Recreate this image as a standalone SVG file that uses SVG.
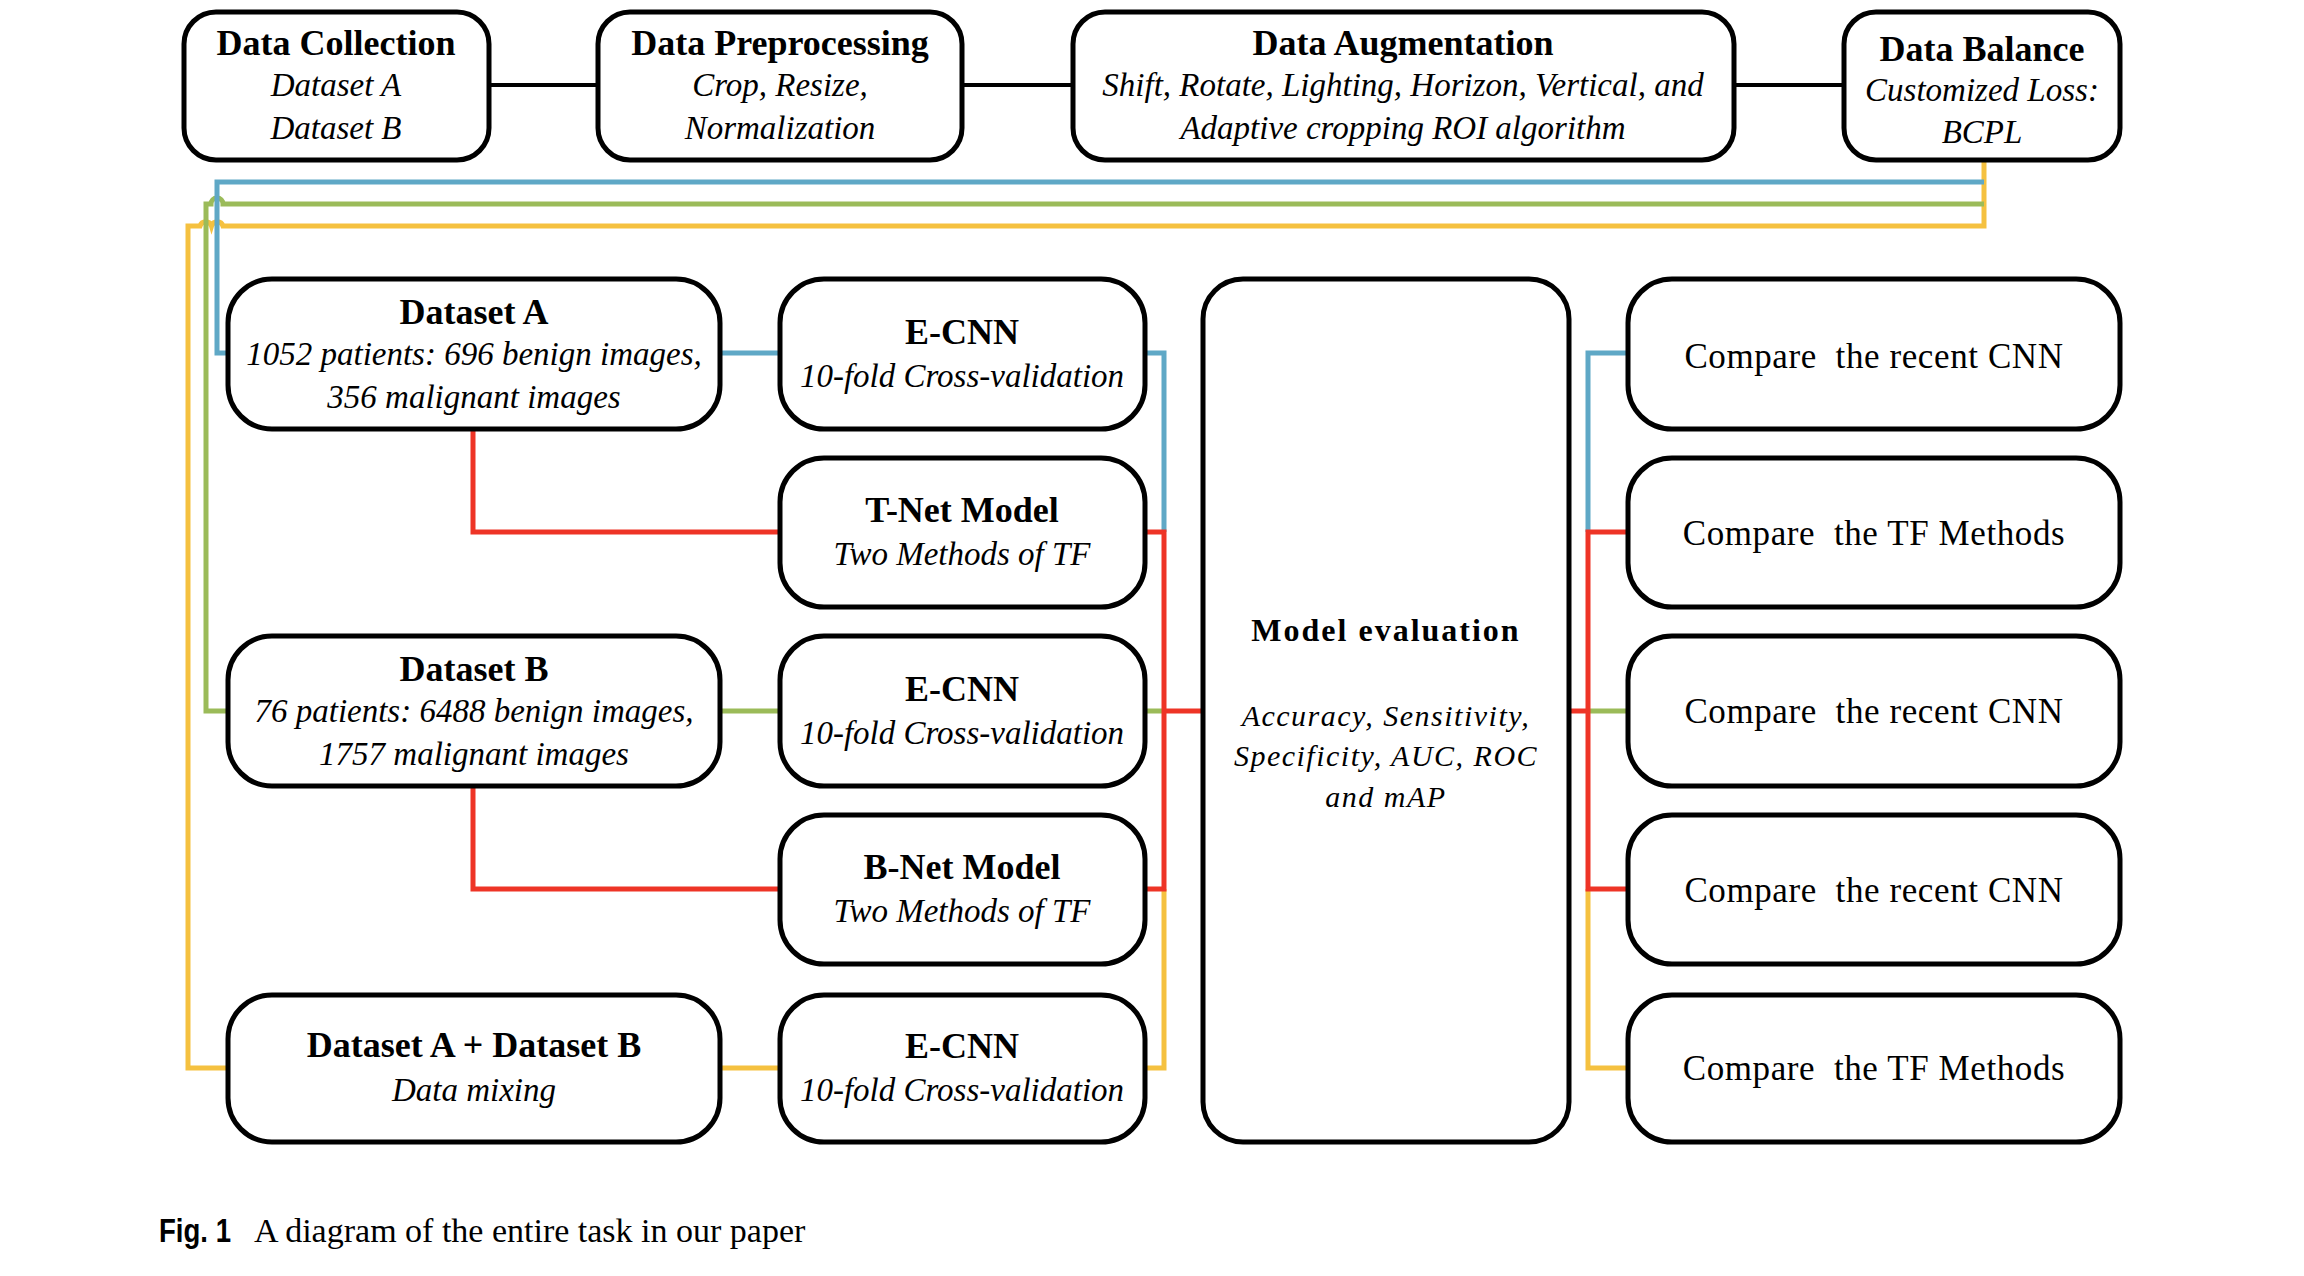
<svg xmlns="http://www.w3.org/2000/svg" width="2304" height="1276" viewBox="0 0 2304 1276">
<style>
.box{fill:#fff;stroke:#000;stroke-width:5}
.t{font-family:"Liberation Serif","Times New Roman",serif;font-weight:bold;font-size:36px;text-anchor:middle;fill:#000}
.i{font-family:"Liberation Serif","Times New Roman",serif;font-style:italic;font-size:33px;text-anchor:middle;fill:#000}
.r{font-family:"Liberation Serif","Times New Roman",serif;font-size:35px;letter-spacing:0.6px;text-anchor:middle;fill:#000}
.me{font-family:"Liberation Serif","Times New Roman",serif;font-weight:bold;font-size:32px;letter-spacing:2px;text-anchor:middle;fill:#000}
.mi{font-family:"Liberation Serif","Times New Roman",serif;font-style:italic;font-size:30px;letter-spacing:1.5px;text-anchor:middle;fill:#000}
.c{fill:none;stroke-width:5;stroke-linejoin:miter;stroke-linecap:butt}
.k{stroke:#000;stroke-width:4}
.bl{stroke:#5FA8C6}
.gr{stroke:#9BBB59}
.ye{stroke:#F5C140}
.rd{stroke:#EE3426}
</style>
<rect width="2304" height="1276" fill="#fff"/>
<g id="connectors">
<path class="c k" d="M489 85H598M962 85H1073M1734 85H1844"/>
<path class="c ye" d="M1984 160V226H223A6 6 0 0 0 211.5 226A6 6 0 0 0 200 226H188V1068H228"/>
<path class="c gr" d="M1984 204H223A6 6 0 0 0 211 204H206V711H228"/>
<path class="c bl" d="M1984 182H217V353H228"/>
<path class="c bl" d="M720 353H780M1145 353H1164V532"/>
<path class="c gr" d="M720 711H780M1145 711H1164"/>
<path class="c ye" d="M720 1068H780M1145 1068H1164V889"/>
<path class="c rd" d="M473 429V532H780M473 786V889H780M1145 532H1164V889H1145M1164 711H1203"/>
<path class="c rd" d="M1569 711H1588"/>
<path class="c bl" d="M1628 353H1588V532"/>
<path class="c gr" d="M1588 711H1628"/>
<path class="c ye" d="M1588 889V1068H1628"/>
<path class="c rd" d="M1628 532H1588V889H1628"/>
</g>
<g id="data-collection">
<rect class="box" x="184" y="12" width="305" height="148" rx="32"/>
<text class="t" x="336" y="55">Data Collection</text>
<text class="i" x="336" y="96">Dataset A</text>
<text class="i" x="336" y="139">Dataset B</text>
</g>
<g id="data-preprocessing">
<rect class="box" x="598" y="12" width="364" height="148" rx="32"/>
<text class="t" x="780" y="55">Data Preprocessing</text>
<text class="i" x="780" y="96">Crop, Resize,</text>
<text class="i" x="780" y="139">Normalization</text>
</g>
<g id="data-augmentation">
<rect class="box" x="1073" y="12" width="661" height="148" rx="32"/>
<text class="t" x="1403" y="55">Data Augmentation</text>
<text class="i" x="1403" y="96">Shift, Rotate, Lighting, Horizon, Vertical, and</text>
<text class="i" x="1403" y="139">Adaptive cropping ROI algorithm</text>
</g>
<g id="data-balance">
<rect class="box" x="1844" y="12" width="276" height="148" rx="32"/>
<text class="t" x="1982" y="61">Data Balance</text>
<text class="i" x="1982" y="101">Customized Loss:</text>
<text class="i" x="1982" y="143">BCPL</text>
</g>
<g id="dataset-a">
<rect class="box" x="228" y="279" width="492" height="150" rx="44"/>
<text class="t" x="474" y="324">Dataset A</text>
<text class="i" x="474" y="365">1052 patients: 696 benign images,</text>
<text class="i" x="474" y="408">356 malignant images</text>
</g>
<g id="ecnn-1">
<rect class="box" x="780" y="279" width="365" height="150" rx="44"/>
<text class="t" x="962" y="344">E-CNN</text>
<text class="i" x="962" y="387">10-fold Cross-validation</text>
</g>
<g id="tnet">
<rect class="box" x="780" y="458" width="365" height="149" rx="44"/>
<text class="t" x="962" y="522">T-Net Model</text>
<text class="i" x="962" y="565">Two Methods of TF</text>
</g>
<g id="dataset-b">
<rect class="box" x="228" y="636" width="492" height="150" rx="44"/>
<text class="t" x="474" y="681">Dataset B</text>
<text class="i" x="474" y="722">76 patients: 6488 benign images,</text>
<text class="i" x="474" y="765">1757 malignant images</text>
</g>
<g id="ecnn-2">
<rect class="box" x="780" y="636" width="365" height="150" rx="44"/>
<text class="t" x="962" y="701">E-CNN</text>
<text class="i" x="962" y="744">10-fold Cross-validation</text>
</g>
<g id="bnet">
<rect class="box" x="780" y="815" width="365" height="149" rx="44"/>
<text class="t" x="962" y="879">B-Net Model</text>
<text class="i" x="962" y="922">Two Methods of TF</text>
</g>
<g id="dataset-ab">
<rect class="box" x="228" y="995" width="492" height="147" rx="44"/>
<text class="t" x="474" y="1057">Dataset A + Dataset B</text>
<text class="i" x="474" y="1101">Data mixing</text>
</g>
<g id="ecnn-3">
<rect class="box" x="780" y="995" width="365" height="147" rx="44"/>
<text class="t" x="962" y="1058">E-CNN</text>
<text class="i" x="962" y="1101">10-fold Cross-validation</text>
</g>
<g id="model-evaluation">
<rect class="box" x="1203" y="279" width="366" height="863" rx="40"/>
<text class="me" x="1386" y="641">Model evaluation</text>
<text class="mi" x="1386" y="726">Accuracy, Sensitivity,</text>
<text class="mi" x="1386" y="766">Specificity, AUC, ROC</text>
<text class="mi" x="1386" y="807">and mAP</text>
</g>
<g id="compare-1">
<rect class="box" x="1628" y="279" width="492" height="150" rx="44"/>
<text class="r" x="1874" y="368" xml:space="preserve">Compare  the recent CNN</text>
</g>
<g id="compare-2">
<rect class="box" x="1628" y="458" width="492" height="149" rx="44"/>
<text class="r" x="1874" y="545" xml:space="preserve">Compare  the TF Methods</text>
</g>
<g id="compare-3">
<rect class="box" x="1628" y="636" width="492" height="150" rx="44"/>
<text class="r" x="1874" y="723" xml:space="preserve">Compare  the recent CNN</text>
</g>
<g id="compare-4">
<rect class="box" x="1628" y="815" width="492" height="149" rx="44"/>
<text class="r" x="1874" y="902" xml:space="preserve">Compare  the recent CNN</text>
</g>
<g id="compare-5">
<rect class="box" x="1628" y="995" width="492" height="147" rx="44"/>
<text class="r" x="1874" y="1080" xml:space="preserve">Compare  the TF Methods</text>
</g>
<g id="caption">
<text x="159" y="1242" textLength="72" lengthAdjust="spacingAndGlyphs" style="font-family:'Liberation Sans',Arial,sans-serif;font-weight:bold;font-size:33px;fill:#000">Fig. 1</text>
<text x="254" y="1242" style="font-family:'Liberation Serif','Times New Roman',serif;font-size:34px;fill:#000">A diagram of the entire task in our paper</text>
</g>
</svg>
